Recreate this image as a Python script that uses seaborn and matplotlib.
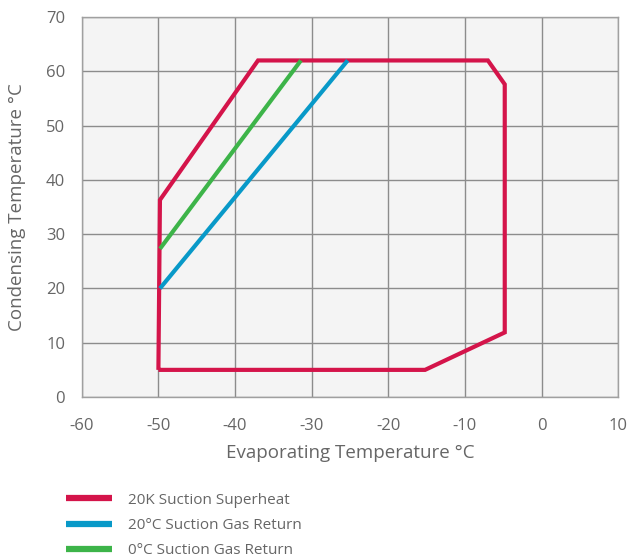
import pandas as pd
import matplotlib.pyplot as plt
import seaborn as sns

sns.set_style('white')
plt.rcParams['font.family'] = ['Open Sans', 'DejaVu Sans']
plt.rcParams['axes.unicode_minus'] = False

# envelope data (evaporating, condensing temperature)
superheat_evap = [-50, -49.8, -37, -7, -4.8, -4.8, -15.2, -50]
superheat_cond = [5, 36.3, 62, 62, 57.6, 11.9, 5, 5]
gas20_evap = [-49.8, -25.3]
gas20_cond = [20, 62]
gas0_evap = [-49.8, -31.4]
gas0_cond = [27.3, 62]

labels = ['20K Suction Superheat', '20°C Suction Gas Return', '0°C Suction Gas Return']
colors = ['#D4144A', '#0899C8', '#3DB449']

fig = plt.figure(figsize=(6.34, 5.58), dpi=100)
ax = fig.add_axes([0.129, 0.2885, 0.846, 0.681])
ax.set_facecolor('#F4F4F4')

series = [(superheat_evap, superheat_cond), (gas20_evap, gas20_cond), (gas0_evap, gas0_cond)]
handles = []
for (xs, ys), lab, col in zip(series, labels, colors):
    df = pd.DataFrame({'evap': xs, 'cond': ys})
    sns.lineplot(data=df, x='evap', y='cond', sort=False, estimator=None,
                 color=col, linewidth=3.0, ax=ax, zorder=3,
                 solid_joinstyle='miter', solid_capstyle='butt')
    handles.append(ax.lines[-1])

ax.set_xlim(-60, 10)
ax.set_ylim(0, 70)
ax.set_xticks(range(-60, 11, 10))
ax.set_yticks(range(0, 71, 10))
ax.grid(True, color='#8C8C8C', linewidth=1.0)
for s in ax.spines.values():
    s.set_color('#A0A0A0')
    s.set_linewidth(1.0)
ax.tick_params(axis='both', length=7, width=1, color='#8C8C8C',
               labelcolor='#666666', labelsize=12)
ax.tick_params(axis='x', pad=8)
ax.tick_params(axis='y', pad=5)
ax.set_xlabel('Evaporating Temperature °C', fontsize=13.5, color='#666666', labelpad=7)
ax.set_ylabel('Condensing Temperature °C', fontsize=13.5, color='#666666', labelpad=14)

leg = fig.legend(handles, labels, loc='upper left', bbox_to_anchor=(0.095, 0.128),
                 frameon=False, fontsize=11, handlelength=3.0, handletextpad=1.05,
                 labelspacing=0.68, borderaxespad=0)
for t in leg.get_texts():
    t.set_color('#666666')
for h in leg.get_lines():
    h.set_linewidth(4.5)

plt.savefig('out.png', dpi=100)
